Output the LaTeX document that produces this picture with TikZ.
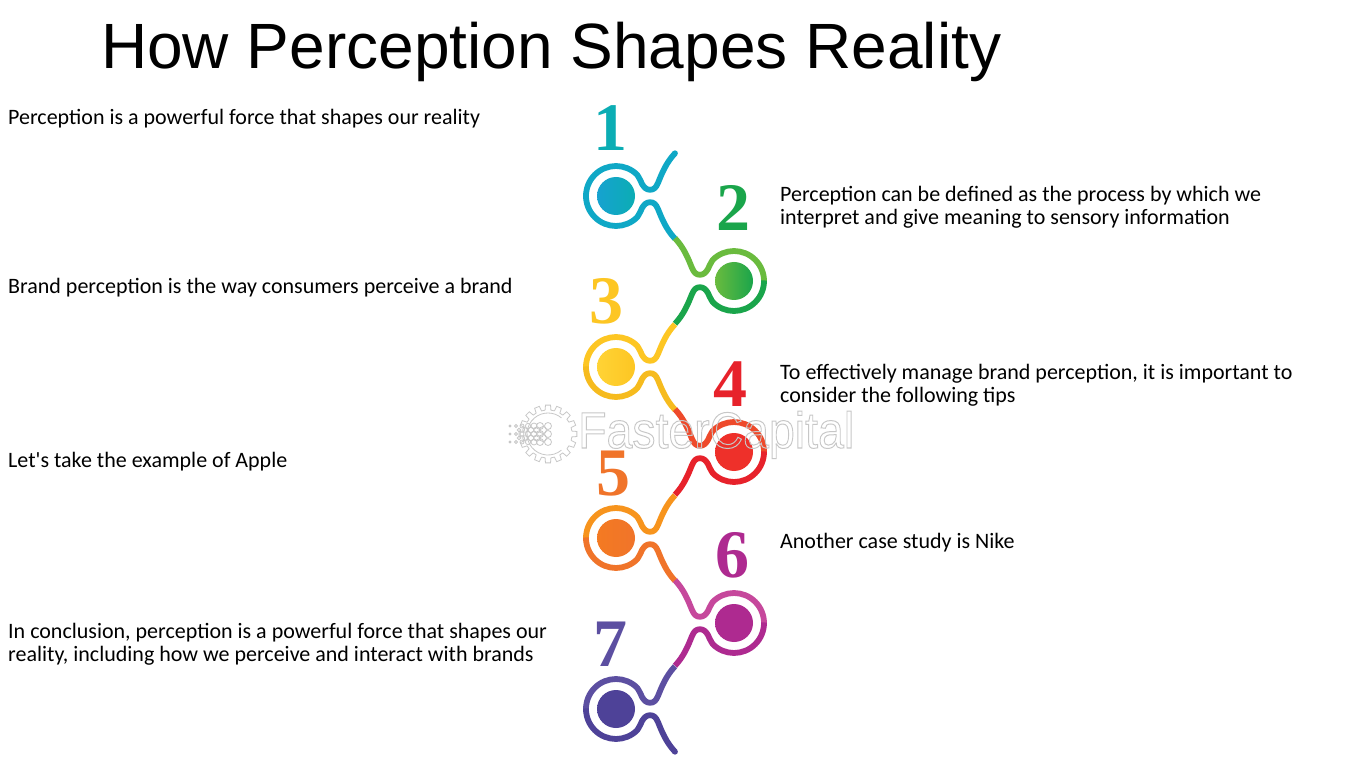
\documentclass[tikz,border=0pt]{standalone}
\usepackage{fontspec}
\usetikzlibrary{calc}
\setmainfont{Carlito}
\newfontfamily\titlefont{Liberation Sans}
\newfontfamily\digitfont{Liberation Serif}[BoldFont={Liberation Serif Bold}]
\newcommand{\outlinetext}[1]{\special{pdf:literal direct 1 Tr 1 w}#1\special{pdf:literal direct 0 Tr}}
\tikzset{
  bodytext/.style={anchor=west,inner sep=0pt,align=left,text=black,font=\fontsize{22}{23}\selectfont},
  titletext/.style={anchor=west,inner sep=0pt,text=black,font=\titlefont\fontsize{64}{70}\selectfont},
  digit/.style={inner sep=0pt,font=\digitfont\bfseries\fontsize{68}{68}\selectfont},
  chain/.style={line width=5.8pt,line cap=butt,line join=round},
  watermark/.style={draw=black!22,line width=0.8pt},
}
% #1 name, #2 x, #3 y, #4 xscale, #5 upper colour, #6 lower colour, #7 #8 disc colours (left, right on the page)
\newcommand{\chainunit}[8]{%
  \coordinate (#1) at (#2,#3);
  \begin{scope}[shift={(#1)},xscale=#4]
    \draw[chain,#5] (59,-42.75) .. controls (50,-33) and (46,-23) .. (42,-13)
       .. controls (40,-8.5) and (38,-6.2) .. (34,-6.2)
       .. controls (30,-6.2) and (28,-9) .. (26,-12)
       .. controls (25,-14.5) and (23,-18.5) .. (21.2,-21.2)
       arc[start angle=-45,end angle=-181,radius=30];
    \draw[chain,#6] (59,42.75) .. controls (50,33) and (46,23) .. (42,13)
       .. controls (40,8.5) and (38,6.2) .. (34,6.2)
       .. controls (30,6.2) and (28,9) .. (26,12)
       .. controls (25,14.5) and (23,18.5) .. (21.2,21.2)
       arc[start angle=45,end angle=181,radius=30];
  \end{scope}
  \shade[left color=#7,right color=#8] (#1) circle[radius=19];}
\begin{document}
\begin{tikzpicture}[x=1pt,y=-1pt]
\useasboundingbox (0,0) rectangle (1350,759);
\fill[white] (0,0) rectangle (1350,759);
\node[titletext] (title) at (101,51.5) {How Perception Shapes Reality};
\node[bodytext] (t1) at (8,118.5) {Perception is a powerful force that shapes our reality};
\node[bodytext] (t2) at (780,207) {Perception can be defined as the process by which we\\interpret and give meaning to sensory information};
\node[bodytext] (t3) at (8,287.5) {Brand perception is the way consumers perceive a brand};
\node[bodytext] (t4) at (780,385) {To effectively manage brand perception, it is important to\\consider the following tips};
\node[bodytext] (t5) at (8,461.5) {Let\textquotesingle s take the example of Apple};
\node[bodytext] (t6) at (780,542.5) {Another case study is Nike};
\node[bodytext] (t7) at (8,644) {In conclusion, perception is a powerful force that shapes our\\reality, including how we perceive and interact with brands};
% chain
\definecolor{cA}{HTML}{0FA8C6}\definecolor{cB}{HTML}{0BADB4}\definecolor{cAd}{HTML}{16A2D0}
\definecolor{gU}{HTML}{6ABB3E}\definecolor{gL}{HTML}{1AA54B}
\definecolor{yU}{HTML}{FDC623}\definecolor{yL}{HTML}{F6BB1E}\definecolor{yD}{HTML}{FFD335}
\definecolor{rU}{HTML}{EE4A2B}\definecolor{rL}{HTML}{E7222B}\definecolor{rD}{HTML}{EE302A}
\definecolor{oU}{HTML}{F7941D}\definecolor{oL}{HTML}{F0742A}\definecolor{oD}{HTML}{F47A22}
\definecolor{pU}{HTML}{C6489C}\definecolor{pL}{HTML}{AE2A90}
\definecolor{vU}{HTML}{5C4FA1}\definecolor{vL}{HTML}{4E4298}
\chainunit{c1}{616}{196}{1}{cA}{cA}{cAd}{cB}
\chainunit{c2}{734}{281}{-1}{gU}{gL}{gU}{gL}
\chainunit{c3}{616}{367}{1}{yU}{yL}{yD}{yU}
\chainunit{c4}{734}{452}{-1}{rU}{rL}{rD}{rD}
\chainunit{c5}{616}{538}{1}{oU}{oL}{oD}{oL}
\chainunit{c6}{734}{623}{-1}{pU}{pL}{pL}{pL}
\chainunit{c7}{616}{709}{1}{vU}{vL}{vL}{vL}
\fill[cA] (675,153.25) circle[radius=2.9];
\fill[vL] (675,751.75) circle[radius=2.9];
% digits
\node[digit,text=cB] (d1) at (610,128) {1};
\node[digit,text=gL] (d2) at (733,208) {2};
\node[digit,text=yU] (d3) at (606,301) {3};
\node[digit,text=rL] (d4) at (730,384) {4};
\node[digit,text=oL] (d5) at (613,474) {5};
\node[digit,text=pL] (d6) at (732,555) {6};
\node[digit,text=vU] (d7) at (610,644) {7};
% watermark
\foreach \a in {0,22.5,...,337.5}{
  \draw[watermark] ($(548,434)+(\a-7:24)$) -- ($(548,434)+(\a-5:29)$) -- ($(548,434)+(\a+5:29)$) -- ($(548,434)+(\a+7:24)$) -- ($(548,434)+(\a+15.5:24)$);
}
\draw[watermark] (548,434) ++(50:21) arc[start angle=50,end angle=310,radius=21];
\foreach \cx/\r in {510/1,516/1.5,522/2,528/2.6,534/3,540/3.5,548/3.5}{
  \foreach \cy in {-1,0,1}{\draw[watermark] (\cx,434+\cy*8) circle[radius=\r];}
}
\foreach \cx/\r in {519/1.8,525/2.3,531/2.8,537/3.2,543/3.5}{
  \foreach \cy in {-.5,.5}{\draw[watermark] (\cx,434+\cy*8) circle[radius=\r];}
}
\node[inner sep=0pt,anchor=base west,text=black!22,xscale=.91,font=\titlefont\fontsize{51}{51}\selectfont] (wm) at (578,448) {\outlinetext{FasterCapital}};
\end{tikzpicture}
\end{document}
